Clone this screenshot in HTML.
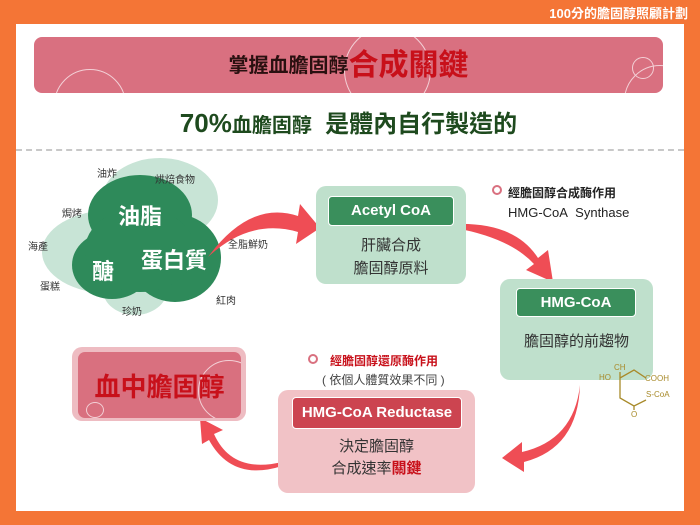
<!DOCTYPE html>
<html><head><meta charset="utf-8"><style>
body{margin:0;width:700px;height:525px;background:#f47536;position:relative;overflow:hidden;font-family:"Liberation Sans","Noto Sans CJK TC",sans-serif}
.a{position:absolute}
.white{left:16px;top:24px;width:668px;height:487px;background:#fff}
.t{text-align:center;white-space:nowrap}
.f{font-size:10px;color:#333}
</style></head><body>
<div class="a" style="right:12px;top:3px;color:#fff;font-size:13px;font-weight:bold">100分的膽固醇照顧計劃</div>
<div class="a white"></div>
<div class="a" style="left:34px;top:37px;width:629px;height:56px;background:#d97080;border-radius:8px;overflow:hidden">
 <div class="a" style="left:20px;top:32px;width:70px;height:70px;border:1.5px solid #f3d0d6;border-radius:50%"></div>
 <div class="a" style="left:310px;top:-10px;width:85px;height:85px;border:1.5px solid #f3d0d6;border-radius:50%"></div>
 <div class="a" style="left:590px;top:28px;width:70px;height:70px;border:1.5px solid #f3d0d6;border-radius:50%"></div>
 <div class="a" style="left:598px;top:20px;width:20px;height:20px;border:1.5px solid #f3d0d6;border-radius:50%"></div>
</div>
<div class="a t" style="left:34px;width:629px;top:46px;line-height:40px;color:#2a1010"><span style="font-size:20px;font-weight:bold;vertical-align:middle">掌握血膽固醇</span><span style="color:#c8101a;font-size:30px;font-weight:bold;vertical-align:middle">合成關鍵</span></div>
<div class="a t" style="left:34px;width:629px;top:104px;font-size:24px;color:#1e4a1e;font-weight:bold"><span style="font-size:26px">70%</span><span style="font-size:20px">血膽固醇</span>&nbsp;&nbsp;是體內自行製造的</div>
<div class="a" style="left:16px;top:149px;width:668px;border-top:2px dashed #c8c8c8"></div>

<svg class="a" style="left:0;top:0" width="700" height="525">
 <g fill="#c8e4d6">
  <ellipse cx="160" cy="228" rx="46" ry="48"/>
  <ellipse cx="112" cy="252" rx="70" ry="42"/>
  <ellipse cx="160" cy="200" rx="58" ry="42"/>
  <ellipse cx="135" cy="290" rx="32" ry="25"/>
 </g>
 <g fill="#2e8a5a">
  <ellipse cx="140" cy="215" rx="52" ry="40"/>
  <ellipse cx="112" cy="265" rx="40" ry="34"/>
  <ellipse cx="175" cy="258" rx="46" ry="44"/>
  <ellipse cx="140" cy="250" rx="55" ry="42"/>
 </g>
 <g fill="#ef4d55">
  <path d="M208 257 Q250 200 298 216 L300 204 L320 228 L296 244 L298 232 Q250 218 208 257Z"/>
  <path d="M455 224 Q515 222 538 258 L548 250 L553 282 L526 270 L534 264 Q510 238 455 228Z"/>
  <path d="M580 385 Q574 440 522 452 L522 442 L502 458 L524 472 L524 462 Q578 448 580 385Z"/>
  <path d="M282 462 Q232 474 214 434 L223 430 L200 418 L202 444 L209 440 Q232 482 282 466Z"/>
 </g>
</svg>
<div class="a f" style="left:97px;top:165px">油炸</div>
<div class="a f" style="left:155px;top:171px">烘焙食物</div>
<div class="a f" style="left:62px;top:205px">焗烤</div>
<div class="a f" style="left:28px;top:238px">海產</div>
<div class="a f" style="left:40px;top:278px">蛋糕</div>
<div class="a f" style="left:122px;top:303px">珍奶</div>
<div class="a f" style="left:216px;top:292px">紅肉</div>
<div class="a f" style="left:228px;top:236px">全脂鮮奶</div>
<div class="a" style="font-size:22px;color:#fff;font-weight:bold;left:118px;top:199px">油脂</div>
<div class="a" style="font-size:22px;color:#fff;font-weight:bold;left:141px;top:243px">蛋白質</div>
<div class="a" style="font-size:22px;color:#fff;font-weight:bold;left:92px;top:254px">醣</div>

<div class="a" style="left:316px;top:186px;width:150px;height:98px;background:#bfe0cc;border-radius:10px"></div>
<div class="a t" style="left:328px;top:196px;width:124px;height:28px;line-height:28px;background:#3a8f5c;border:1.5px solid #fff;border-radius:4px;color:#fff;font-weight:bold;font-size:15px">Acetyl CoA</div>
<div class="a t" style="left:316px;width:150px;top:234px;font-size:15px;line-height:23px;color:#333">肝臟合成<br>膽固醇原料</div>

<div class="a" style="left:492px;top:185px;width:10px;height:10px;border-radius:50%;border:2px solid #d9707f;box-sizing:border-box"></div>
<div class="a" style="left:508px;top:184px;font-size:12px;font-weight:bold;color:#222">經膽固醇合成酶作用</div>
<div class="a" style="left:508px;top:205px;font-size:13px;color:#222">HMG-CoA&nbsp; Synthase</div>

<div class="a" style="left:500px;top:279px;width:153px;height:101px;background:#bfe0cc;border-radius:10px"></div>
<div class="a t" style="left:516px;top:288px;width:118px;height:27px;line-height:27px;background:#3a8f5c;border:1.5px solid #fff;border-radius:4px;color:#fff;font-weight:bold;font-size:15px">HMG-CoA</div>
<div class="a t" style="left:500px;width:153px;top:330px;font-size:15px;color:#333">膽固醇的前趨物</div>
<svg class="a" style="left:590px;top:360px" width="90" height="60"><g stroke="#a88a2a" stroke-width="1.3" fill="none"><path d="M30 12 L30 18 L44 10 L56 18 M30 18 L30 38 L44 46 L56 40 M44 46 L44 50"/></g>
<g fill="#a88a2a" font-size="8" font-family="Liberation Sans"><text x="24" y="10">CH</text><text x="9" y="20">HO</text><text x="55" y="21">COOH</text><text x="56" y="37">S-CoA</text><text x="41" y="57">O</text></g></svg>

<div class="a" style="left:308px;top:354px;width:10px;height:10px;border-radius:50%;border:2px solid #d9707f;box-sizing:border-box"></div>
<div class="a" style="left:330px;top:352px;font-size:12px;font-weight:bold;color:#c8101a">經膽固醇還原酶作用</div>
<div class="a" style="left:322px;top:371px;font-size:12px;color:#444">( 依個人體質效果不同 )</div>
<div class="a" style="left:278px;top:390px;width:197px;height:103px;background:#f1c2c6;border-radius:10px"></div>
<div class="a t" style="left:292px;top:397px;width:168px;height:30px;line-height:30px;background:#cc4450;border:1.5px solid #fff;border-radius:4px;color:#fff;font-weight:bold;font-size:15px">HMG-CoA Reductase</div>
<div class="a t" style="left:278px;width:197px;top:436px;font-size:15px;line-height:22px;color:#333">決定膽固醇<br>合成速率<b style="color:#c8101a">關鍵</b></div>

<div class="a" style="left:72px;top:347px;width:174px;height:74px;background:#eebcc2;border-radius:10px"></div>
<div class="a" style="left:78px;top:352px;width:163px;height:66px;background:#d9707f;border-radius:7px;overflow:hidden">
 <div class="a" style="left:120px;top:8px;width:60px;height:60px;border:1.5px solid #f3d0d6;border-radius:50%"></div>
 <div class="a" style="left:8px;top:50px;width:16px;height:14px;border:1.5px solid #f3d0d6;border-radius:50%"></div>
</div>
<div class="a t" style="left:78px;width:163px;top:367px;font-size:26px;font-weight:bold;color:#c8101a">血中膽固醇</div>
</body></html>
